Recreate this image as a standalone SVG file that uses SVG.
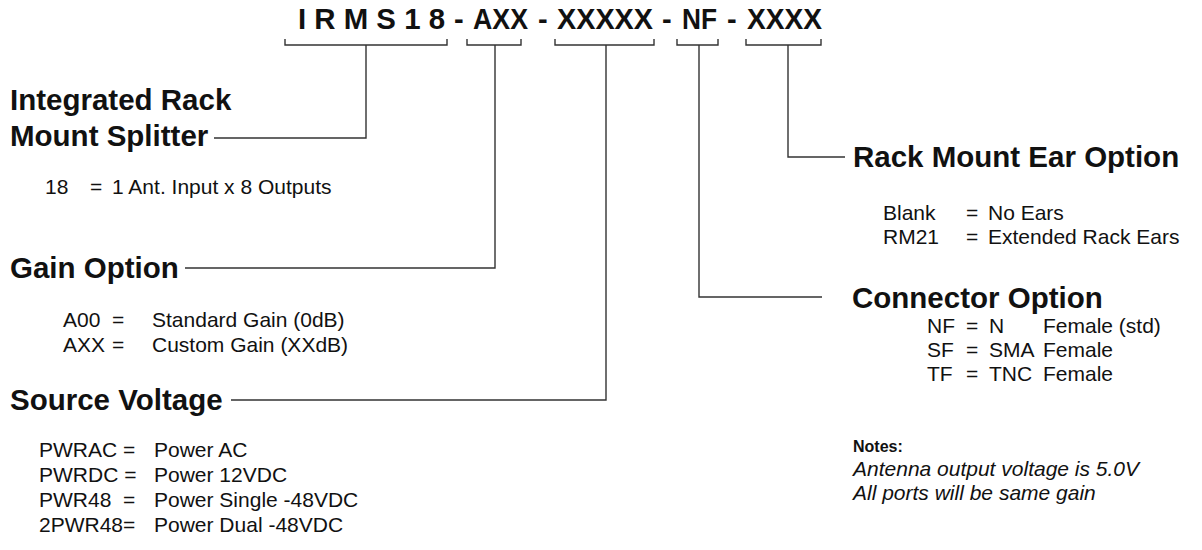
<svg xmlns="http://www.w3.org/2000/svg" width="1202" height="550" viewBox="0 0 1202 550">
<style>
.t{font-family:"Liberation Sans",Arial,sans-serif;font-weight:bold;font-size:29px;fill:#111}
.h{font-family:"Liberation Sans",Arial,sans-serif;font-weight:bold;font-size:29.5px;fill:#111}
.b{font-family:"Liberation Sans",Arial,sans-serif;font-size:21px;fill:#111}
.nb{font-family:"Liberation Sans",Arial,sans-serif;font-weight:bold;font-size:16px;fill:#111}
.ni{font-family:"Liberation Sans",Arial,sans-serif;font-style:italic;font-size:21px;fill:#111}
.ln{fill:none;stroke:#333;stroke-width:1.4}
</style>
<rect width="1202" height="550" fill="#fff"/>
<g id="title">
<text class="t" x="298" y="29" textLength="147" lengthAdjust="spacingAndGlyphs">I R M S 1 8</text>
<text class="t" x="454" y="29">-</text>
<text class="t" x="473" y="29" textLength="55" lengthAdjust="spacingAndGlyphs">AXX</text>
<text class="t" x="538" y="29">-</text>
<text class="t" x="557" y="29" textLength="96" lengthAdjust="spacingAndGlyphs">XXXXX</text>
<text class="t" x="662" y="29">-</text>
<text class="t" x="682" y="29" textLength="35" lengthAdjust="spacingAndGlyphs">NF</text>
<text class="t" x="727" y="29">-</text>
<text class="t" x="747" y="29" textLength="75" lengthAdjust="spacingAndGlyphs">XXXX</text>
</g>
<g id="connectors">
<path class="ln" d="M285,39 V45 H447 V39 M366,45 V138 H214"/>
<path class="ln" d="M467,39 V45 H521 V39 M495,45 V268 H185"/>
<path class="ln" d="M555,39 V45 H654 V39 M606,45 V400 H231"/>
<path class="ln" d="M677,39 V45 H718 V39 M699,45 V297 H822"/>
<path class="ln" d="M746,39 V45 H821 V39 M788,45 V157 H845"/>
</g>
<g id="splitter">
<text class="h" x="10" y="110">Integrated Rack</text>
<text class="h" x="10" y="146">Mount Splitter</text>
<text class="b" x="45" y="194">18</text><text class="b" x="90" y="194">=</text><text class="b" x="112" y="194">1 Ant. Input x 8 Outputs</text>
</g>
<g id="gain">
<text class="h" x="10" y="278">Gain Option</text>
<text class="b" x="63" y="327">A00</text><text class="b" x="112" y="327">=</text><text class="b" x="152" y="327">Standard Gain (0dB)</text>
<text class="b" x="63" y="352">AXX</text><text class="b" x="112" y="352">=</text><text class="b" x="152" y="352">Custom Gain (XXdB)</text>
</g>
<g id="voltage">
<text class="h" x="10" y="410">Source Voltage</text>
<text class="b" x="39" y="457">PWRAC =</text><text class="b" x="154" y="457">Power AC</text>
<text class="b" x="39" y="482">PWRDC =</text><text class="b" x="154" y="482">Power 12VDC</text>
<text class="b" x="39" y="507">PWR48&#160;&#160;=</text><text class="b" x="154" y="507">Power Single -48VDC</text>
<text class="b" x="39" y="532">2PWR48=</text><text class="b" x="154" y="532">Power Dual -48VDC</text>
</g>
<g id="ears">
<text class="h" x="853" y="167">Rack Mount Ear Option</text>
<text class="b" x="883" y="220">Blank</text><text class="b" x="966" y="220">=</text><text class="b" x="988" y="220">No Ears</text>
<text class="b" x="883" y="244">RM21</text><text class="b" x="966" y="244">=</text><text class="b" x="988" y="244">Extended Rack Ears</text>
</g>
<g id="connector">
<text class="h" x="852" y="308">Connector Option</text>
<text class="b" x="927" y="333">NF</text><text class="b" x="966" y="333">=</text><text class="b" x="989" y="333">N</text><text class="b" x="1043" y="333">Female (std)</text>
<text class="b" x="927" y="357">SF</text><text class="b" x="966" y="357">=</text><text class="b" x="989" y="357">SMA</text><text class="b" x="1043" y="357">Female</text>
<text class="b" x="927" y="381">TF</text><text class="b" x="966" y="381">=</text><text class="b" x="989" y="381">TNC</text><text class="b" x="1043" y="381">Female</text>
</g>
<g id="notes">
<text class="nb" x="853" y="452">Notes:</text>
<text class="ni" x="853" y="476">Antenna output voltage is 5.0V</text>
<text class="ni" x="853" y="500">All ports will be same gain</text>
</g>
</svg>
